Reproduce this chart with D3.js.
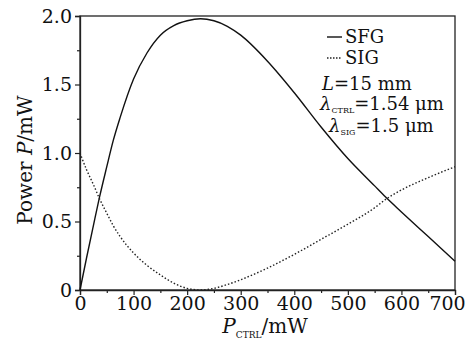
<!DOCTYPE html>
<html>
<head>
<meta charset="utf-8">
<script src="https://cdn.jsdelivr.net/npm/d3@7"></script>
<style>
  body { margin: 0; background: #fff; }
  svg { display: block; }
  svg text { font-family: "DejaVu Serif", serif; fill: #111; }
</style>
</head>
<body>
<div id="chart"></div>
<script>
// control power (mW)
const pCtrl = [0, 12, 25, 36, 50, 62, 75, 100, 125, 150, 175, 200, 225, 250, 275, 300, 350, 400, 450, 500, 550, 570, 600, 650, 700];
// SFG output power (mW)
const sfg = [0, 0.23, 0.47, 0.67, 0.9, 1.09, 1.26, 1.54, 1.73, 1.86, 1.93, 1.965, 1.98, 1.965, 1.925, 1.86, 1.67, 1.44, 1.19, 0.96, 0.76, 0.68, 0.57, 0.39, 0.21];
// signal output power (mW)
const sig = [1.0, 0.88, 0.77, 0.67, 0.56, 0.47, 0.39, 0.27, 0.18, 0.11, 0.05, 0.012, 0.0, 0.012, 0.04, 0.075, 0.16, 0.26, 0.37, 0.48, 0.6, 0.66, 0.73, 0.82, 0.9];

const xTicks = [0, 100, 200, 300, 400, 500, 600, 700];
const yTicks = [0, 0.5, 1.0, 1.5, 2.0];
const yTickLabels = ['0', '0.5', '1.0', '1.5', '2.0'];

const W = 466, H = 342;
const margin = { left: 80, right: 11, top: 16, bottom: 52 };
const iw = W - margin.left - margin.right;
const ih = H - margin.top - margin.bottom;
const serif = '"DejaVu Serif", serif';

const svg = d3.select('#chart').append('svg')
  .attr('width', W).attr('height', H)
  .attr('font-family', serif);

const g = svg.append('g').attr('transform', `translate(${margin.left},${margin.top})`);

const x = d3.scaleLinear().domain([0, 700]).range([0, iw]);
const y = d3.scaleLinear().domain([0, 2.0]).range([ih, 0]);

// frame
g.append('rect')
  .attr('x', 0).attr('y', 0).attr('width', iw).attr('height', ih)
  .attr('fill', 'none').attr('stroke', '#222').attr('stroke-width', 1.3);

// minor ticks
g.append('g').attr('transform', `translate(0,${ih})`)
  .call(d3.axisBottom(x).tickValues(d3.range(50, 700, 100)).tickSize(3).tickFormat(''))
  .call(s => s.select('.domain').remove())
  .call(s => s.selectAll('.tick line').attr('stroke', '#222').attr('stroke-width', 1.2));
g.append('g')
  .call(d3.axisLeft(y).tickValues([0.25, 0.75, 1.25, 1.75]).tickSize(3).tickFormat(''))
  .call(s => s.select('.domain').remove())
  .call(s => s.selectAll('.tick line').attr('stroke', '#222').attr('stroke-width', 1.2));

// major ticks + labels
g.append('g').attr('transform', `translate(0,${ih})`)
  .call(d3.axisBottom(x).tickValues(xTicks).tickSize(5).tickPadding(2).tickFormat(d3.format('d')))
  .attr('font-family', serif)
  .call(s => s.select('.domain').attr('stroke', '#222').attr('stroke-width', 1.3))
  .call(s => s.selectAll('.tick line').attr('stroke', '#222').attr('stroke-width', 1.2))
  .call(s => s.selectAll('.tick text').attr('font-size', 19).attr('fill', '#111')
    .attr('dx', d => d === 700 ? -8 : 0));

g.append('g')
  .call(d3.axisLeft(y).tickValues(yTicks).tickSize(5).tickPadding(3).tickFormat((d, i) => yTickLabels[i]))
  .attr('font-family', serif)
  .call(s => s.select('.domain').attr('stroke', '#222').attr('stroke-width', 1.3))
  .call(s => s.selectAll('.tick line').attr('stroke', '#222').attr('stroke-width', 1.2))
  .call(s => s.selectAll('.tick text').attr('font-size', 19).attr('fill', '#111'));

// curves
const line = d3.line().curve(d3.curveMonotoneX)
  .x(d => x(d[0])).y(d => y(d[1]));

g.append('path')
  .datum(pCtrl.map((p, i) => [p, sfg[i]]))
  .attr('fill', 'none').attr('stroke', '#111').attr('stroke-width', 1.4)
  .attr('d', line);

g.append('path')
  .datum(pCtrl.map((p, i) => [p, sig[i]]))
  .attr('fill', 'none').attr('stroke', '#222').attr('stroke-width', 1.4)
  .attr('stroke-dasharray', '1.5,2')
  .attr('d', line);

// legend
const lg = svg.append('g');
lg.append('line').attr('x1', 327).attr('x2', 342).attr('y1', 37).attr('y2', 37)
  .attr('stroke', '#111').attr('stroke-width', 1.4);
lg.append('text').attr('x', 345).attr('y', 43).attr('font-size', 18).text('SFG');
lg.append('line').attr('x1', 327).attr('x2', 342).attr('y1', 58).attr('y2', 58)
  .attr('stroke', '#222').attr('stroke-width', 1.4).attr('stroke-dasharray', '1.5,1.5');
lg.append('text').attr('x', 345).attr('y', 64).attr('font-size', 18).text('SIG');

const t1 = lg.append('text').attr('x', 322).attr('y', 90).attr('font-size', 18);
t1.append('tspan').attr('font-style', 'italic').text('L');
t1.append('tspan').text('=15 mm');

const t2 = lg.append('text').attr('x', 320).attr('y', 110).attr('font-size', 18);
t2.append('tspan').attr('font-style', 'italic').text('λ');
t2.append('tspan').attr('font-size', 8).attr('dy', 3).text('CTRL');
t2.append('tspan').attr('dy', -3).text('=1.54 μm');

const t3 = lg.append('text').attr('x', 329).attr('y', 132).attr('font-size', 18);
t3.append('tspan').attr('font-style', 'italic').text('λ');
t3.append('tspan').attr('font-size', 8).attr('dy', 3).text('SIG');
t3.append('tspan').attr('dy', -3).text('=1.5 μm');

// axis titles
const xt = svg.append('text').attr('x', 265).attr('y', 333).attr('text-anchor', 'middle').attr('font-size', 20);
xt.append('tspan').attr('font-style', 'italic').text('P');
xt.append('tspan').attr('font-size', 9).attr('dy', 5).text('CTRL');
xt.append('tspan').attr('dy', -5).text('/mW');

const yt = svg.append('text').attr('transform', 'translate(32,160) rotate(-90)')
  .attr('text-anchor', 'middle').attr('font-size', 20);
yt.append('tspan').text('Power ');
yt.append('tspan').attr('font-style', 'italic').text('P');
yt.append('tspan').text('/mW');
</script>
</body>
</html>
